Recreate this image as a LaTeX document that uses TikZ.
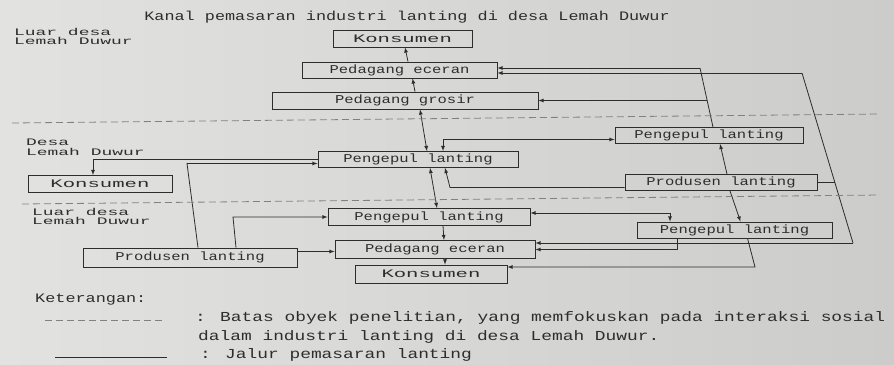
\documentclass[tikz,border=0pt]{standalone}
\usepackage{fontspec}
\newfontfamily\lantingfont[FakeStretch=1.3]{Liberation Mono}
\newfontfamily\sisifont[FakeStretch=1.8]{Liberation Mono}
\usepackage{tikz}
\usetikzlibrary{arrows}
\definecolor{kertasL}{RGB}{226,226,224}
\definecolor{kertasR}{RGB}{204,204,202}
\definecolor{tinta}{RGB}{45,45,45}

\begin{document}
\begin{tikzpicture}[
  kotak/.style={draw=tinta,line width=0.8bp,inner sep=0pt,minimum height=17bp,text=tinta,font=\lantingfont\fontsize{12}{14}\selectfont},
  kons/.style={kotak,font=\sisifont\fontsize{11.5}{14}\selectfont},
  panah/.style={-latex,draw=tinta,line width=0.8bp},
  panahdua/.style={latex-latex,draw=tinta,line width=0.8bp},
  garis/.style={draw=tinta,line width=0.8bp},
  batas/.style={draw=tinta!60,line width=0.8bp,dash pattern=on 7bp off 4bp},
  sisi/.style={align=left,anchor=north west,inner sep=0pt,text=tinta,font=\sisifont\fontsize{10}{9.5}\selectfont},
  ket/.style={anchor=west,inner sep=0pt,text=tinta,font=\lantingfont\fontsize{13.8}{16}\selectfont}
]

\shade[left color=kertasL,right color=kertasR] (0bp,0bp) rectangle (894bp,-365bp);
\useasboundingbox (0bp,0bp) rectangle (894bp,-365bp);

\node (judul) at (407bp,-17bp)[text=tinta,font=\lantingfont\fontsize{13}{15}\selectfont] {Kanal pemasaran industri lanting di desa Lemah Duwur};

\node (luarAtas) at (14bp,-28bp)[sisi] {Luar desa\\Lemah Duwur};
\node (desa) at (26bp,-139bp)[sisi] {Desa\\Lemah Duwur};
\node (luarBawah) at (32bp,-208bp)[sisi] {Luar desa\\Lemah Duwur};

% kotak-kotak
\node (konsA) at (402.5bp,-38.5bp)[kons,minimum width=139bp] {Konsumen};
\node (ecerA) at (399.5bp,-70bp)[kotak,minimum width=195bp,minimum height=16bp] {Pedagang eceran};
\node (grosir) at (405bp,-100.5bp)[kotak,minimum width=266bp] {Pedagang grosir};
\node (pengKanan) at (709bp,-135.5bp)[kotak,minimum width=188bp,minimum height=16bp] {Pengepul lanting};
\node (pengDesa) at (418bp,-159.5bp)[kotak,minimum width=200bp,minimum height=16bp] {Pengepul lanting};
\node (konsB) at (100bp,-184bp)[kons,minimum width=144bp] {Konsumen};
\node (prodKanan) at (721bp,-182.5bp)[kotak,minimum width=192bp,minimum height=16bp] {Produsen lanting};
\node (pengLuar) at (429bp,-217bp)[kotak,minimum width=202bp] {Pengepul lanting};
\node (pengBawah) at (734.5bp,-230bp)[kotak,minimum width=195bp,minimum height=16bp] {Pengepul lanting};
\node (prodKiri) at (190bp,-257.5bp)[kotak,minimum width=214bp,minimum height=19bp] {Produsen lanting};
\node (ecerB) at (435bp,-249.5bp)[kotak,minimum width=200bp,minimum height=18bp] {Pedagang eceran};
\node (konsC) at (431bp,-274bp)[kons,minimum width=152bp,minimum height=18bp] {Konsumen};

% jalur tengah
\draw[panah] ([xshift=8.5bp]ecerA.north) -- ([xshift=2.5bp]konsA.south);
\draw[panah] ([xshift=10bp]grosir.north) -- ([xshift=13bp]ecerA.south);
\draw[panahdua] ([xshift=15bp]grosir.south) -- ([xshift=9bp]pengDesa.north);
\draw[panahdua] ([xshift=12bp]pengDesa.south) -- ([xshift=8bp]pengLuar.north);
\draw[panah] ([xshift=14bp]pengLuar.south) -- ([xshift=9bp]ecerB.north);
\draw[panah] ([xshift=10bp]ecerB.south) -- ([xshift=14bp]konsC.north);

% jalur kanan
\draw[panahdua] ([yshift=-4bp]pengKanan.west) -| ([xshift=25bp]pengDesa.north);
\coordinate (sudutA) at (700bp,-68bp);
\coordinate (cabangA) at (707bp,-100.5bp);
\draw[garis] ([xshift=4bp]pengKanan.north) -- (sudutA);
\draw[panah] (sudutA) -- (sudutA -| ecerA.east);
\draw[panah] (cabangA) -- (grosir.east);
\coordinate (kananAtas) at (802bp,-73bp);
\coordinate (kananTengah) at (835bp,-182.5bp);
\coordinate (kananBawah) at (853bp,-243bp);
\draw[garis] (kananAtas) -- (kananBawah);
\draw[panah] (kananAtas) -- (kananAtas -| ecerA.east);
\draw[garis] (prodKanan.east) -- (kananTengah);
\draw[panah] (kananBawah) -- (kananBawah -| ecerB.east);
\draw[panah] ([xshift=6bp]prodKanan.north) -- ([xshift=11bp]pengKanan.south);
\draw[panah] ([xshift=9bp]prodKanan.south) -- ([xshift=6bp]pengBawah.north);
\coordinate (sudutB) at (450bp,-187.5bp);
\draw[panah] ([yshift=-5bp]prodKanan.west) -- (sudutB) -- ([xshift=27bp]pengDesa.south);
\draw[panahdua] ([yshift=4bp]pengLuar.east) -| ([xshift=-64.5bp]pengBawah.north);
\draw[panah] ([xshift=-57.5bp]pengBawah.south) |- (ecerB.east);
\coordinate (sudutC) at (755bp,-267bp);
\draw[panah] ([xshift=13bp]pengBawah.south) -- (sudutC) -- (sudutC -| konsC.east);

% jalur kiri
\draw[panah] ([yshift=-2bp]ecerB.west -| prodKiri.east) -- ([yshift=-2bp]ecerB.west);
\coordinate (sudutD) at (233bp,-217bp);
\draw[panah] ([xshift=46bp]prodKiri.north) -- (sudutD) -- (pengLuar.west);
\coordinate (sudutE) at (187bp,-163.5bp);
\draw[panah] ([xshift=8bp]prodKiri.north) -- (sudutE) -- (sudutE -| pengDesa.west);
\draw[panah] (pengDesa.west) -| ([xshift=-7bp]konsB.north);

% batas wilayah
\draw[batas] (12bp,-123bp) -- (880bp,-114bp);
\draw[batas] (22bp,-204bp) -- (880bp,-195bp);

% keterangan
\node (keterangan) at (35bp,-300bp)[ket,font=\lantingfont\fontsize{13}{15}\selectfont] {Keterangan:};
\draw[batas] (45bp,-320bp) -- (165bp,-320bp);
\node (ketBatas) at (195bp,-318bp)[ket] {: Batas obyek penelitian, yang memfokuskan pada interaksi sosial};
\node (ketBatas2) at (198bp,-337bp)[ket] {dalam industri lanting di desa Lemah Duwur.};
\draw[garis] (55bp,-357bp) -- (167bp,-357bp);
\node (ketJalur) at (200bp,-355bp)[ket] {: Jalur pemasaran lanting};
\end{tikzpicture}
\end{document}
